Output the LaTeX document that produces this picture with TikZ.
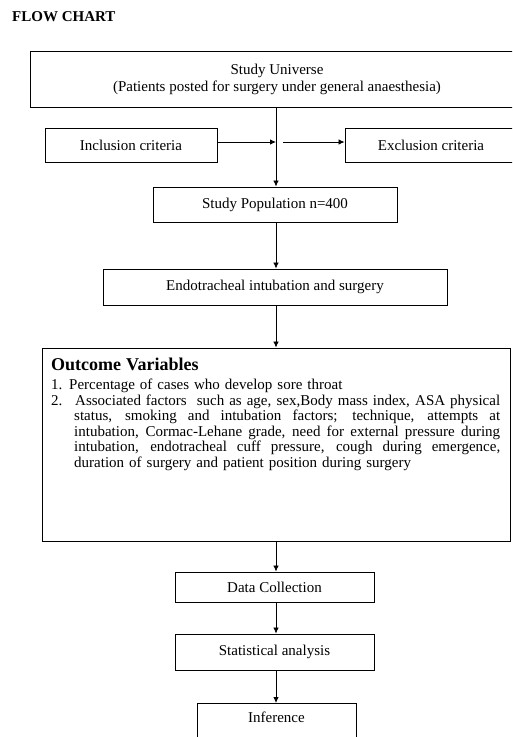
\documentclass[tikz,border=0pt]{standalone}
\usepackage{fontspec}
\setmainfont{Liberation Serif}
\usetikzlibrary{arrows.meta,calc}
\newcommand\justline[2]{\hbox to #1{\spaceskip=3.75pt plus 1fil\xspaceskip=3.75pt plus 1fil\relax #2}}
\begin{document}
\begin{tikzpicture}[x=1pt,y=-1pt,
  box/.style={draw, line width=0.9pt, inner sep=2pt, font=\fontsize{15}{17}\selectfont, align=center},
  flow/.style={draw, line width=0.8pt, -{Latex[length=6pt,width=5.5pt]}}]
\useasboundingbox (0,0) rectangle (512,737);
\clip (0,0) rectangle (512,737);
\fill[white] (0,0) rectangle (512,737);
\coordinate (spine) at (276,0);
\coordinate (row) at (0,142);
\node[anchor=west, inner sep=0pt, font=\fontsize{15}{17}\selectfont\bfseries] (title) at (12,17) {FLOW CHART};
\node[box, minimum width=494pt, minimum height=56pt] (univ) at (277,79) {Study Universe\\(Patients posted for surgery under general anaesthesia)};
\node[box, minimum width=172pt, minimum height=34pt] (inc) at (131,145) {Inclusion criteria};
\node[box, minimum width=172pt, minimum height=34pt] (exc) at (431,145) {Exclusion criteria};
\node[box, minimum width=244pt, minimum height=35pt] (pop) at (275,204.5) {Study Population n=400};
\node[box, minimum width=344pt, minimum height=36pt] (endo) at (275,287) {Endotracheal intubation and surgery};
\node[draw, line width=0.9pt, minimum width=468pt, minimum height=193pt, inner sep=0pt] (outc) at (276,444.5) {};
\node[anchor=north west, inner sep=0pt, text width=449pt, align=left, font=\fontsize{15}{15.5}\selectfont] (otext) at (51,358) {%
{\fontsize{18}{18}\selectfont\bfseries Outcome Variables}\\[3.5pt]
\makebox[18pt][l]{1.}Percentage of cases who develop sore throat\\
\makebox[24pt][l]{2.}\justline{425pt}{Associated factors\ \ such as age, sex,Body mass index, ASA physical}\\
\hspace*{23pt}\justline{426pt}{status, smoking and intubation factors; technique, attempts at}\\
\hspace*{23pt}\justline{426pt}{intubation, Cormac-Lehane grade, need for external pressure during}\\
\hspace*{23pt}\justline{426pt}{intubation, endotracheal cuff pressure, cough during emergence,}\\
\hspace*{23pt}duration of surgery and patient position during surgery};
\node[box, minimum width=199pt, minimum height=30pt] (data) at (274.5,587) {Data Collection};
\node[box, minimum width=199pt, minimum height=36pt] (stat) at (274.5,652) {Statistical analysis};
\node[box, anchor=north, minimum width=159pt, text height=15pt, text depth=50pt, inner ysep=4pt] (inf) at (276.5,703) {Inference};
\draw[flow] (univ.south -| spine) -- (pop.north -| spine);
\draw[flow] (inc.east |- row) -- (spine |- row);
\draw[flow] ($(spine |- row)+(7,0)$) -- (exc.west |- row);
\draw[flow] (pop.south -| spine) -- (endo.north -| spine);
\draw[flow] (endo.south -| spine) -- (outc.north -| spine);
\draw[flow] (outc.south -| spine) -- (data.north -| spine);
\draw[flow] (data.south -| spine) -- (stat.north -| spine);
\draw[flow] (stat.south -| spine) -- (inf.north -| spine);
\end{tikzpicture}
\end{document}
